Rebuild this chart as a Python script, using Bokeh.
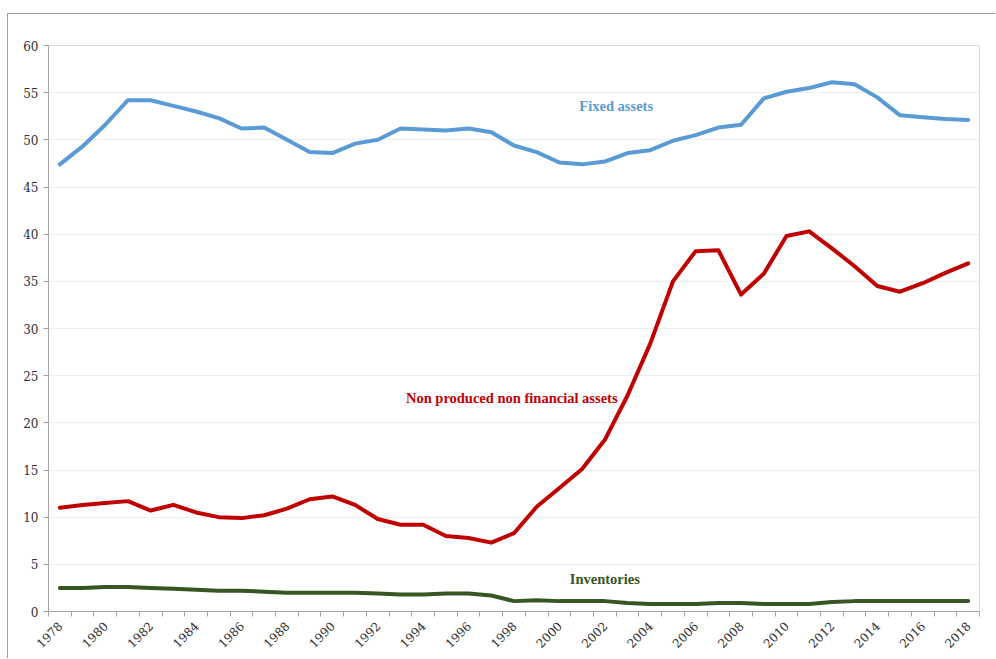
import math
from bokeh.plotting import figure
from bokeh.models import FixedTicker, Range1d
from bokeh.core.properties import value
from bokeh.embed import file_html
from bokeh.resources import INLINE

years = list(range(1978, 2019))
fixed_assets = [47.4, 49.3, 51.6, 54.2, 54.2, 53.6, 53.0, 52.3, 51.2, 51.3,
                50.0, 48.7, 48.6, 49.6, 50.0, 51.2, 51.1, 51.0, 51.2, 50.8,
                49.4, 48.7, 47.6, 47.4, 47.7, 48.6, 48.9, 49.9, 50.5, 51.3,
                51.6, 54.4, 55.1, 55.5, 56.1, 55.9, 54.5, 52.6, 52.4, 52.2, 52.1]
non_produced = [11.0, 11.3, 11.5, 11.7, 10.7, 11.3, 10.5, 10.0, 9.9, 10.2,
                10.9, 11.9, 12.2, 11.3, 9.8, 9.2, 9.2, 8.0, 7.8, 7.3,
                8.3, 11.1, 13.1, 15.1, 18.2, 22.9, 28.4, 35.0, 38.2, 38.3,
                33.6, 35.8, 39.8, 40.3, 38.5, 36.6, 34.5, 33.9, 34.8, 35.9, 36.9]
inventories = [2.5, 2.5, 2.6, 2.6, 2.5, 2.4, 2.3, 2.2, 2.2, 2.1,
               2.0, 2.0, 2.0, 2.0, 1.9, 1.8, 1.8, 1.9, 1.9, 1.7,
               1.1, 1.2, 1.1, 1.1, 1.1, 0.9, 0.8, 0.8, 0.8, 0.9,
               0.9, 0.8, 0.8, 0.8, 1.0, 1.1, 1.1, 1.1, 1.1, 1.1, 1.1]
label_years = list(range(1978, 2019, 2))
y_ticks = list(range(0, 61, 5))

series_names = ["Fixed assets", "Non produced non financial assets", "Inventories"]
series_colors = ["#5B9BD5", "#C00000", "#375623"]

TICK_FONT = "DejaVu Serif"
LABEL_FONT = "Liberation Serif"

p = figure(width=988, height=645, output_backend="svg", toolbar_location=None,
           x_range=Range1d(1977.5, 2018.5), y_range=Range1d(0, 60),
           min_border_left=40, min_border_right=17, min_border_top=31,
           min_border_bottom=48)
p.styles = {"margin-left": "7px", "margin-top": "13px",
            "border-left": "1px solid #a0a0a0", "border-top": "1px solid #a0a0a0"}

p.outline_line_color = "#d9d9d9"
p.xgrid.visible = False
p.ygrid.grid_line_color = "#eeeeee"
p.ygrid.ticker = FixedTicker(ticks=y_ticks)

# x axis
p.xaxis.ticker = FixedTicker(ticks=label_years,
                             minor_ticks=[y - 0.5 for y in years] + [years[-1] + 0.5])
p.xaxis.major_tick_out = 0
p.xaxis.major_tick_in = 0
p.xaxis.minor_tick_out = 5
p.xaxis.minor_tick_in = 0
p.xaxis.minor_tick_line_color = "#a6a6a6"
p.xaxis.major_label_orientation = math.pi / 4
p.xaxis.major_label_standoff = 7
p.xaxis.major_label_text_font = TICK_FONT
p.xaxis.major_label_text_font_size = "12px"
p.xaxis.major_label_text_color = "#303030"
p.xaxis.axis_line_color = "#a6a6a6"

# y axis
p.yaxis.ticker = FixedTicker(ticks=y_ticks)
p.yaxis.major_tick_out = 5
p.yaxis.major_tick_in = 0
p.yaxis.minor_tick_line_color = None
p.yaxis.major_tick_line_color = "#a6a6a6"
p.yaxis.axis_line_color = "#a6a6a6"
p.yaxis.major_label_standoff = 5
p.yaxis.major_label_text_font = TICK_FONT
p.yaxis.major_label_text_font_size = "12px"
p.yaxis.major_label_text_color = "#303030"

for vals, col in zip([fixed_assets, non_produced, inventories], series_colors):
    p.line(years, vals, line_color=col, line_width=4, line_join="round", line_cap="round")

label_x = [2002.5, 1997.9, 2002.0]
label_y = [53.6, 22.6, 3.4]
for name, col, lx, ly in zip(series_names, series_colors, label_x, label_y):
    p.text(x=[lx], y=[ly], text=[name], text_color=col, text_font=value(LABEL_FONT),
           text_font_size="14.5px", text_font_style="bold",
           text_align="center", text_baseline="middle")

open("out.html", "w").write(file_html(p, INLINE))
